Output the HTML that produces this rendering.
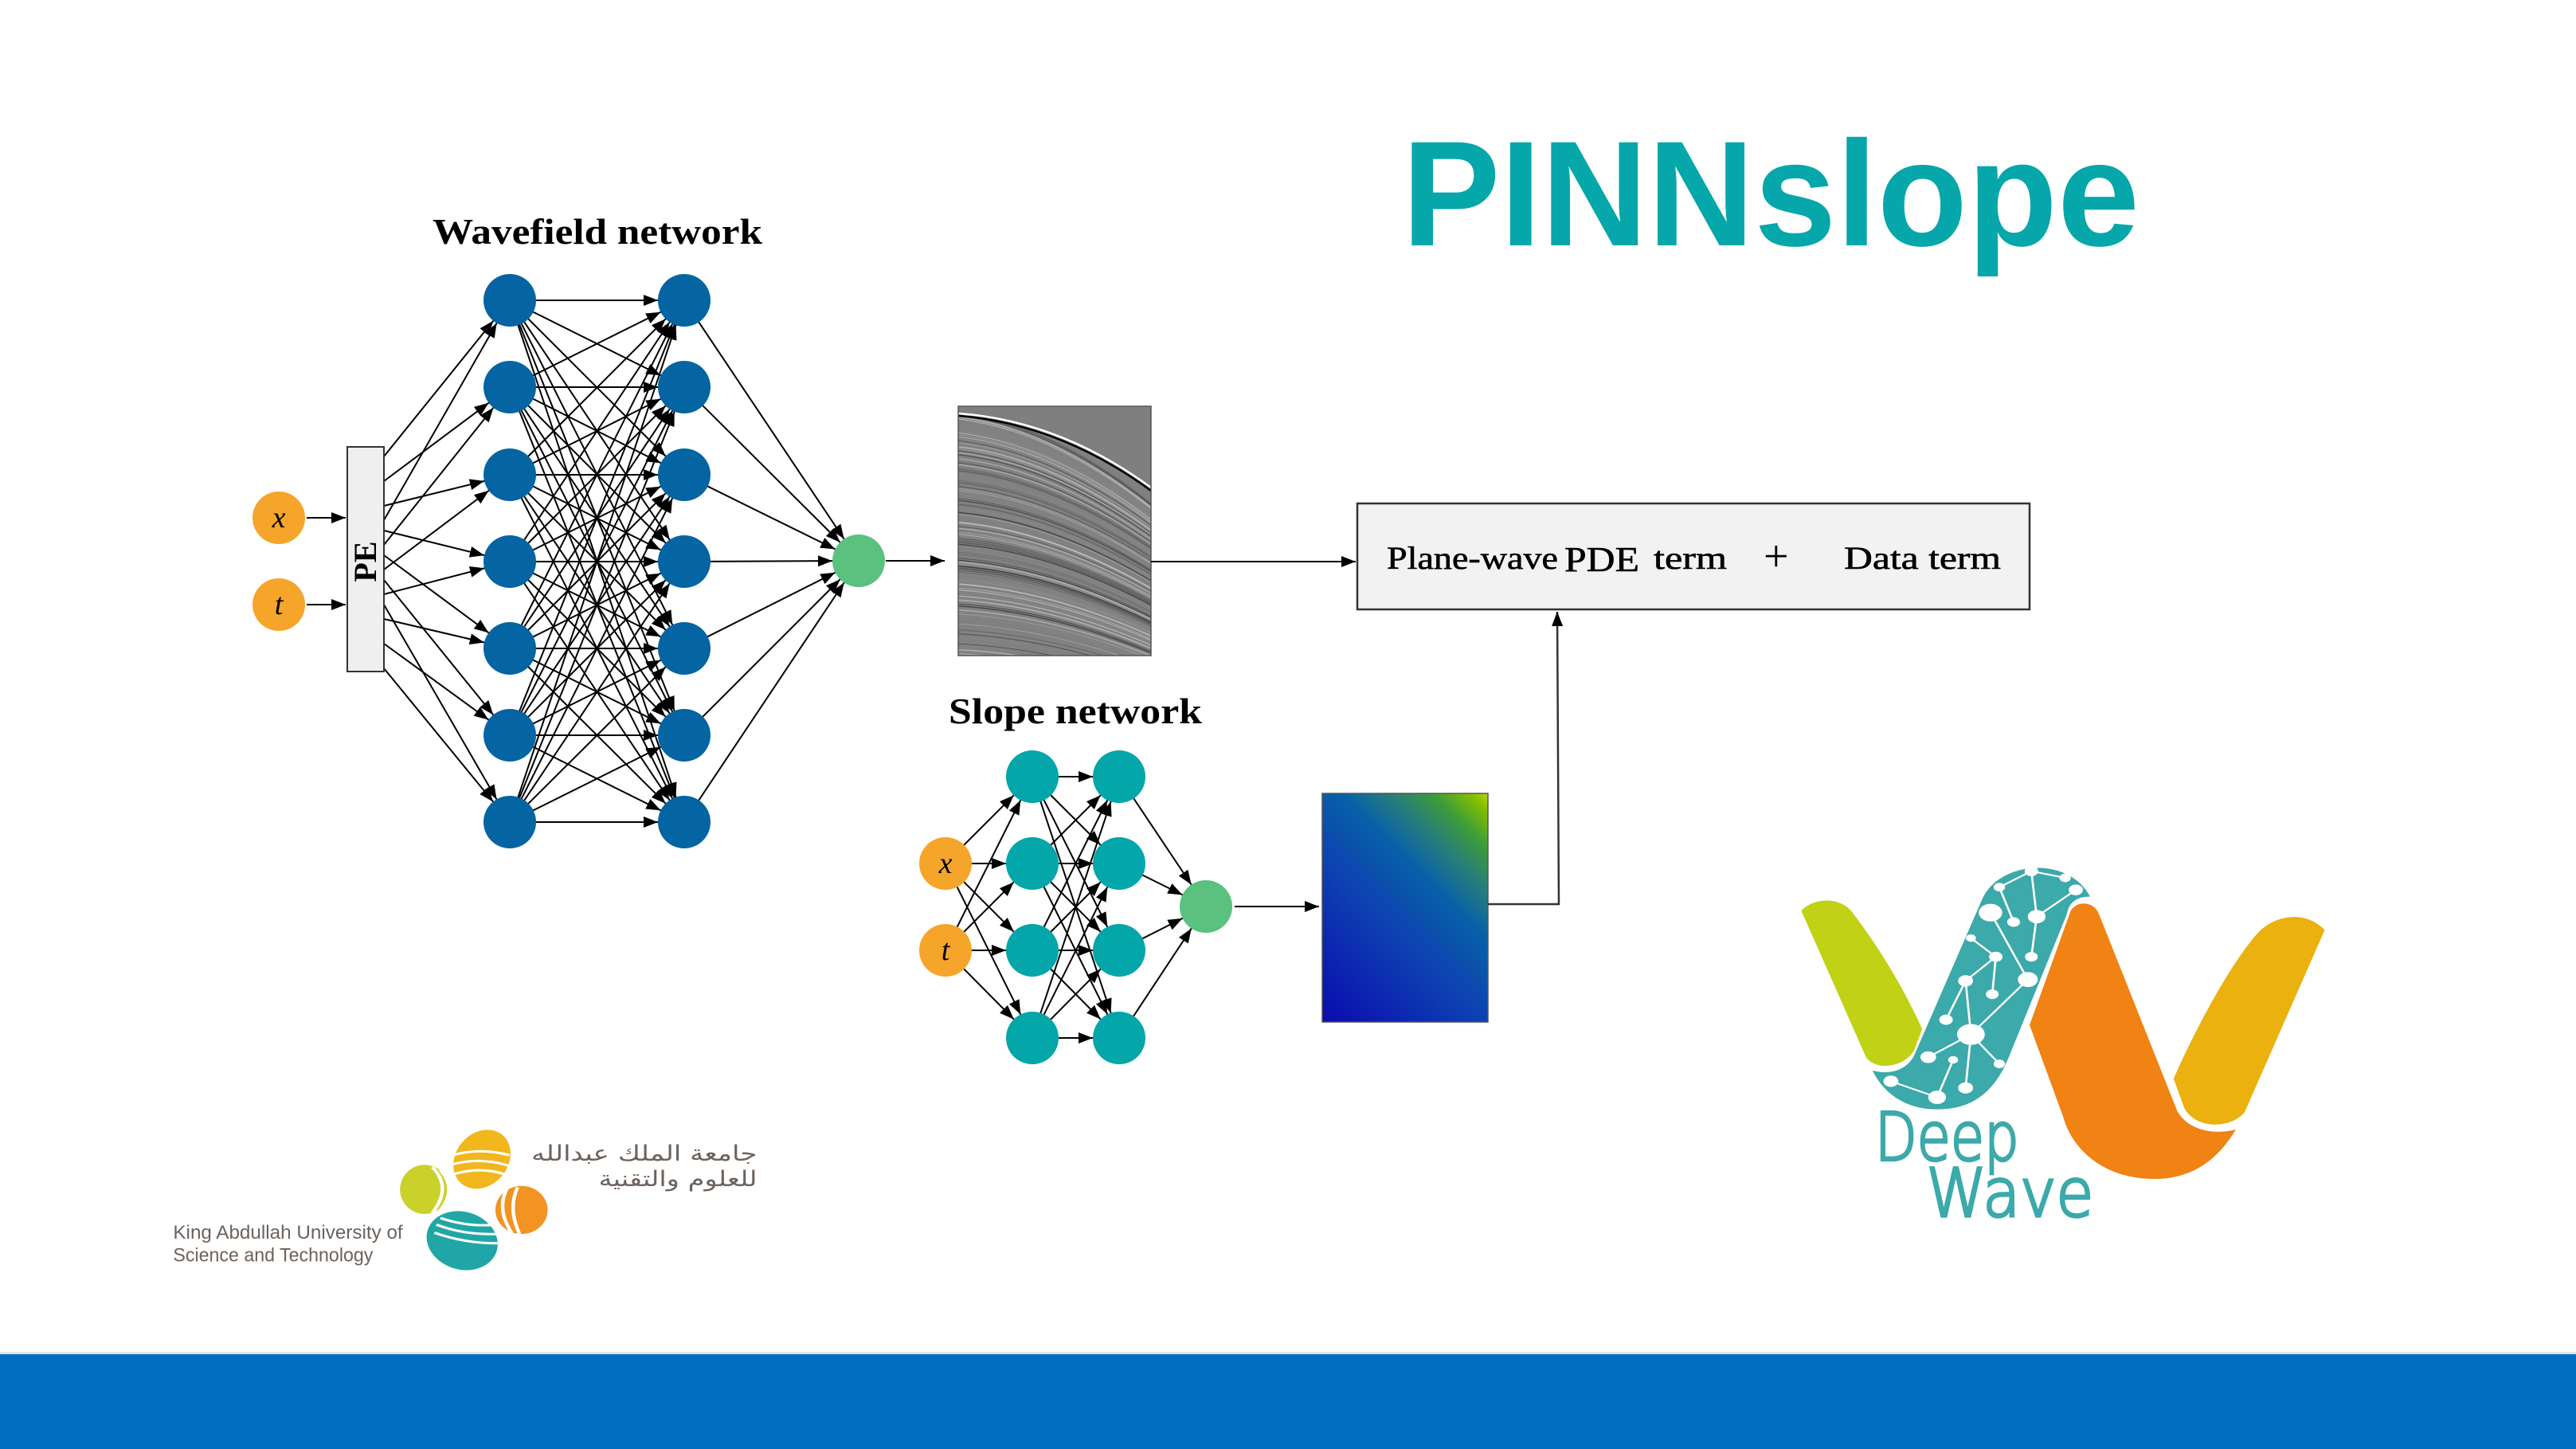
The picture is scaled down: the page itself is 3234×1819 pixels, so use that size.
<!DOCTYPE html>
<html><head><meta charset="utf-8"><style>
html,body{margin:0;padding:0;background:#fff;}
svg{display:block;}
</style></head><body>
<svg id="s" width="3234" height="1819" viewBox="0 0 3234 1819" xmlns="http://www.w3.org/2000/svg">
<defs>
<marker id="a" markerUnits="userSpaceOnUse" markerWidth="80" markerHeight="24" refX="51" refY="12" orient="auto" overflow="visible"><path d="M0,5 L18,12 L0,19 z" fill="#000"/></marker>
<marker id="b" markerUnits="userSpaceOnUse" markerWidth="30" markerHeight="24" refX="18" refY="12" orient="auto" overflow="visible"><path d="M0,5 L18,12 L0,19 z" fill="#000"/></marker>
<linearGradient id="sg" gradientUnits="userSpaceOnUse" x1="1640" y1="1250" x2="1890" y2="1000">
<stop offset="0" stop-color="#0a0fae"/><stop offset="0.4" stop-color="#0d43b2"/><stop offset="0.6" stop-color="#0862a6"/><stop offset="0.72" stop-color="#2a7e7a"/><stop offset="0.82" stop-color="#3a9a3c"/><stop offset="0.92" stop-color="#84c000"/><stop offset="1" stop-color="#f0e224"/>
</linearGradient>
<clipPath id="sc"><rect x="1203" y="510" width="242" height="313"/></clipPath>
</defs>

<rect x="0" y="1697" width="3234" height="3" fill="#e6e6e6"/>
<rect x="0" y="1700" width="3234" height="119" fill="#0270c0"/>

<text x="1760" y="308" font-family="Liberation Sans, sans-serif" font-weight="bold" font-size="188" fill="#06a7aa" textLength="926" lengthAdjust="spacingAndGlyphs">PINNslope</text>

<text x="543" y="306" font-family="Liberation Serif, serif" font-weight="bold" font-size="46" textLength="414" lengthAdjust="spacingAndGlyphs">Wavefield network</text>
<text x="1191" y="908" font-family="Liberation Serif, serif" font-weight="bold" font-size="46" textLength="318" lengthAdjust="spacingAndGlyphs">Slope network</text>

<g id="edges" stroke="#000" stroke-width="2" fill="none"></g>

<rect x="436" y="561" width="46" height="282" fill="#efefef" stroke="#333" stroke-width="2"/>
<text transform="translate(472,705) rotate(-90)" text-anchor="middle" font-family="Liberation Serif, serif" font-weight="bold" font-size="40">PE</text>

<g id="nodes"></g>

<rect x="1203" y="510" width="242" height="313" fill="#808080"/>
<g id="seis" clip-path="url(#sc)" fill="none"></g>
<rect x="1203" y="510" width="242" height="313" fill="none" stroke="#555" stroke-width="1.5"/>

<rect x="1660" y="996" width="208" height="287" fill="url(#sg)" stroke="#555" stroke-width="1.5"/>

<rect x="1704" y="632" width="844" height="133" fill="#f2f2f2" stroke="#333" stroke-width="2.5"/>
<g font-family="Liberation Serif, serif" font-size="40" fill="#000" stroke="#000" stroke-width="0.6">
<text x="1741" y="714" textLength="215" lengthAdjust="spacingAndGlyphs">Plane-wave</text>
<text x="1964" y="717" font-size="44" textLength="94" lengthAdjust="spacingAndGlyphs">PDE</text>
<text x="2076" y="714" textLength="92" lengthAdjust="spacingAndGlyphs">term</text>
<text x="2214" y="717" font-size="56" stroke-width="0">+</text>
<text x="2315" y="714" textLength="197" lengthAdjust="spacingAndGlyphs">Data term</text>
</g>

<line x1="1112" y1="704" x2="1186" y2="704" stroke="#000" stroke-width="2" marker-end="url(#b)"/>
<line x1="1445" y1="705" x2="1702" y2="705" stroke="#000" stroke-width="2" marker-end="url(#b)"/>
<line x1="1550" y1="1138" x2="1656" y2="1138" stroke="#000" stroke-width="2" marker-end="url(#b)"/>
<polyline points="1868,1135 1957,1135 1955,768" fill="none" stroke="#333" stroke-width="2.5" marker-end="url(#b)"/>

<g transform="translate(2240,1060) scale(0.4464,0.336)">
<path d="M48,248 C80,200 160,190 195,260 C280,410 340,550 388,690 L365,770 C340,830 260,850 230,795 Z" fill="#c0d116"/>
<path d="M248,845 C290,860 340,850 365,790 L555,210 C600,60 800,40 860,195 C820,195 800,220 795,260 L630,800 C580,960 500,990 430,990 C340,990 280,930 248,845 Z" fill="#3ca9aa"/>
<g stroke="#fff" stroke-width="6" fill="#fff">
<line x1="695" y1="100" x2="790" y2="125"/><line x1="695" y1="100" x2="605" y2="160"/><line x1="695" y1="100" x2="710" y2="270"/><line x1="605" y1="160" x2="645" y2="290"/><line x1="820" y1="170" x2="710" y2="270"/><line x1="710" y1="270" x2="695" y2="420"/><line x1="580" y1="255" x2="685" y2="505"/><line x1="525" y1="350" x2="595" y2="420"/><line x1="595" y1="420" x2="510" y2="510"/><line x1="595" y1="420" x2="585" y2="560"/><line x1="510" y1="510" x2="455" y2="655"/><line x1="510" y1="510" x2="525" y2="710"/><line x1="685" y1="505" x2="525" y2="710"/><line x1="525" y1="710" x2="405" y2="795"/><line x1="525" y1="710" x2="510" y2="910"/><line x1="525" y1="710" x2="605" y2="820"/><line x1="475" y1="805" x2="430" y2="945"/><line x1="300" y1="885" x2="430" y2="945"/>
<circle cx="695" cy="100" r="16"/><circle cx="790" cy="125" r="13"/><circle cx="820" cy="170" r="17"/><circle cx="605" cy="160" r="13"/><circle cx="580" cy="255" r="30"/><circle cx="710" cy="270" r="22"/><circle cx="645" cy="290" r="15"/><circle cx="525" cy="350" r="11"/><circle cx="595" cy="420" r="16"/><circle cx="695" cy="420" r="15"/><circle cx="685" cy="505" r="25"/><circle cx="510" cy="510" r="18"/><circle cx="585" cy="560" r="15"/><circle cx="455" cy="655" r="16"/><circle cx="525" cy="710" r="36"/><circle cx="405" cy="795" r="19"/><circle cx="475" cy="805" r="11"/><circle cx="605" cy="820" r="13"/><circle cx="300" cy="885" r="18"/><circle cx="510" cy="910" r="18"/><circle cx="430" cy="945" r="22"/>
</g>
<path d="M690,675 L805,250 C820,210 870,210 885,260 L1105,995 C1130,1060 1200,1090 1270,1065 C1210,1200 1130,1250 1040,1250 C900,1250 810,1140 785,1020 Z" fill="#f08314"/>
<path d="M1095,875 C1180,620 1280,400 1340,320 C1390,260 1470,250 1520,320 L1295,1000 C1260,1060 1160,1070 1125,985 Z" fill="#ebb10f"/>
<text x="255" y="1180" font-family="DejaVu Sans, sans-serif" font-weight="200" font-size="250" fill="#3ca9aa" textLength="405" lengthAdjust="spacingAndGlyphs" stroke="#3ca9aa" stroke-width="10">Deep</text>
<text x="400" y="1390" font-family="DejaVu Sans, sans-serif" font-weight="200" font-size="250" fill="#3ca9aa" textLength="470" lengthAdjust="spacingAndGlyphs" stroke="#3ca9aa" stroke-width="10">Wave</text>
</g>

<g transform="translate(200,1400) scale(0.497,0.335)">
<g transform="rotate(12 815 165)"><ellipse cx="815" cy="165" rx="70" ry="112" fill="#f1b71d"/></g>
<ellipse cx="670" cy="278" rx="62" ry="92" fill="#c9d12a"/>
<ellipse cx="915" cy="355" rx="66" ry="90" fill="#f29322"/>
<g transform="rotate(-15 765 470)"><ellipse cx="765" cy="470" rx="88" ry="112" fill="#21a6a8"/></g>
<g stroke="#fff" stroke-width="9" fill="none">
<path d="M740,150 Q810,120 885,150"/><path d="M738,185 Q810,155 885,190"/><path d="M745,220 Q815,190 880,225"/>
<path d="M690,195 Q740,270 690,365"/><path d="M710,205 Q755,280 705,365"/>
<path d="M880,270 Q850,350 890,440"/><path d="M905,270 Q880,350 910,445"/>
<path d="M710,385 Q780,420 850,410"/><path d="M700,410 Q770,450 855,445"/><path d="M695,440 Q770,480 855,480"/>
</g>
<g font-family="Liberation Sans, sans-serif" font-size="72" fill="#6d625c">
<text x="35" y="462" textLength="580" lengthAdjust="spacingAndGlyphs">King Abdullah University of</text>
<text x="35" y="548" textLength="505" lengthAdjust="spacingAndGlyphs">Science and Technology</text>
</g>
<g font-family="DejaVu Sans, sans-serif" font-size="80" fill="#6d625c" direction="rtl">
<text x="1510" y="170" text-anchor="start" textLength="570" lengthAdjust="spacingAndGlyphs">جامعة الملك عبدالله</text>
<text x="1510" y="265" text-anchor="start" textLength="400" lengthAdjust="spacingAndGlyphs">للعلوم والتقنية</text>
</g>
</g>
</svg>
<script>
var NS="http://www.w3.org/2000/svg";
var E=document.getElementById("edges"),N=document.getElementById("nodes"),S=document.getElementById("seis");
function ln(x1,y1,x2,y2,m){var l=document.createElementNS(NS,"line");l.setAttribute("x1",x1);l.setAttribute("y1",y1);l.setAttribute("x2",x2);l.setAttribute("y2",y2);l.setAttribute("marker-end","url(#"+m+")");E.appendChild(l);}
function ci(x,y,r,f,t){var c=document.createElementNS(NS,"circle");c.setAttribute("cx",x);c.setAttribute("cy",y);c.setAttribute("r",r);c.setAttribute("fill",f);N.appendChild(c);
 if(t){var tx=document.createElementNS(NS,"text");tx.setAttribute("x",x);tx.setAttribute("y",y+12);tx.setAttribute("text-anchor","middle");tx.setAttribute("font-family","Liberation Serif, serif");tx.setAttribute("font-style","italic");tx.setAttribute("font-size","38");tx.textContent=t;N.appendChild(tx);}}
var rows=[377,486,596,705,814,923,1032];
ln(385,650,434,650,"b");ln(385,759,434,759,"b");
for(var j=0;j<7;j++){var s=573+31*j;ln(482,s,640,rows[j],"a");ln(482,s+80,640,rows[j],"a");}
for(var i=0;i<7;i++)for(var j=0;j<7;j++)ln(640,rows[i],859,rows[j],"a");
for(var j=0;j<7;j++)ln(859,rows[j],1078,704,"a");
var sr=[975,1084,1193,1303];
for(var j=0;j<4;j++){ln(1187,1084,1296,sr[j],"a");ln(1187,1193,1296,sr[j],"a");}
for(var i=0;i<4;i++)for(var j=0;j<4;j++)ln(1296,sr[i],1405,sr[j],"a");
for(var j=0;j<4;j++)ln(1405,sr[j],1514,1138,"a");
ci(350,650,33,"#f5a52a","x");ci(350,759,33,"#f5a52a","t");
for(var j=0;j<7;j++){ci(640,rows[j],33,"#0564a2");ci(859,rows[j],33,"#0564a2");}
ci(1078,704,33,"#5ac17f");
ci(1187,1084,33,"#f5a52a","x");ci(1187,1193,33,"#f5a52a","t");
for(var j=0;j<4;j++){ci(1296,sr[j],33,"#03a6a9");ci(1405,sr[j],33,"#03a6a9");}
ci(1514,1138,33,"#5ac17f");
var seed=7;function rnd(){seed=(seed*16807)%2147483647;return seed/2147483647;}
var bg=document.createElementNS(NS,"path");
bg.setAttribute("d","M1203,510 L1445,510 L1445,612 Q1330,528 1203,518 Z");bg.setAttribute("fill","#7f7f7f");
for(var y=518;y<830;y+=2.5){var d=95*(1-(y-518)/420)+18;var p=document.createElementNS(NS,"path");
 p.setAttribute("d","M1200,"+y+" Q1320,"+(y+d*0.12)+" 1450,"+(y+d*1.05));
 var r=rnd();var c=r<0.3?"#222":(r<0.55?"#ddd":"#888");
 p.setAttribute("stroke",c);p.setAttribute("stroke-width",(0.6+rnd()*1.2).toFixed(2));p.setAttribute("opacity",(0.2+rnd()*0.45).toFixed(2));S.appendChild(p);}
S.appendChild(bg);
var top1=document.createElementNS(NS,"path");top1.setAttribute("d","M1203,519 Q1330,528 1445,612");top1.setAttribute("stroke","#fff");top1.setAttribute("stroke-width","2.5");S.appendChild(top1);
var top2=document.createElementNS(NS,"path");top2.setAttribute("d","M1203,522 Q1330,532 1445,616");top2.setAttribute("stroke","#000");top2.setAttribute("stroke-width","2.5");S.appendChild(top2);
</script>
</body></html>
